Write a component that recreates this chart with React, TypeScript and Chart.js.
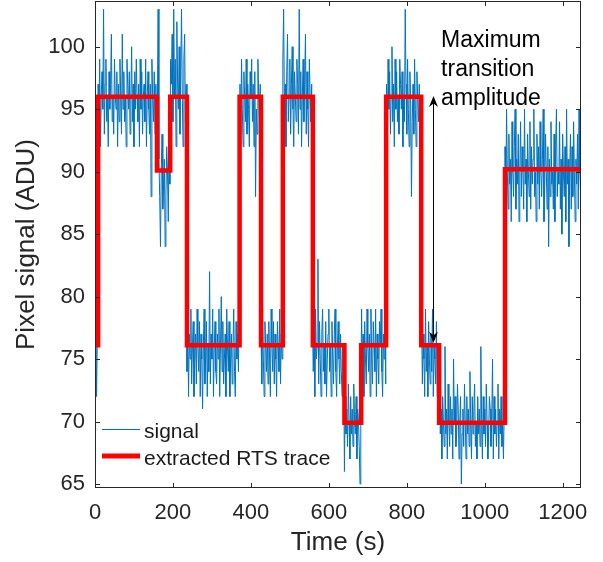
import React, { useEffect, useRef } from "react";
import { Chart, registerables } from "chart.js";

Chart.register(...registerables);

// ---- data ----
const signalStep = 2; // seconds between plotted samples
const signalValues = [
  75, 79, 72, 77,
  97, 94, 99, 92, 96, 98, 95, 103, 93, 97, 99, 94, 96, 92, 98, 95, 97, 101, 94, 96,
  93, 99, 96, 95, 98, 92, 97, 94, 99, 96, 93, 101, 95, 98, 94, 96, 92, 99, 97, 95,
  98, 93, 96, 100, 94, 97, 92, 98, 95, 99, 96, 94, 97, 92, 99, 95, 98, 93, 96, 97,
  94, 99, 92, 96, 98, 95, 93, 97, 88, 99, 96, 94, 98, 93, 97, 95,
  95, 103, 91, 88, 84, 90, 93, 87, 89, 91, 84, 88, 92, 90, 86, 93, 89,
  99, 97, 101, 94, 103, 96, 99, 92, 102, 97, 95, 100, 93, 98, 103, 96, 92, 99, 101, 94, 97,
  74, 78, 72, 77, 75, 79, 73, 76, 78, 72, 75, 77, 73, 79, 76, 74, 78, 72, 77, 75,
  71, 76, 79, 73, 75, 78, 72, 76, 74, 82, 73, 77, 75, 79, 72, 76, 78, 74, 73, 77,
  75, 79, 72, 76, 80, 74, 78, 73, 75, 77, 72, 79, 76, 74, 78, 72, 75, 77, 73, 76,
  79, 74, 72, 78, 75, 77, 74, 79,
  97, 93, 99, 95, 92, 98, 96, 94, 99, 93, 97, 95, 92, 98, 96, 99, 94, 97, 92, 98, 88, 95, 93, 99, 96, 94, 97,
  77, 73, 79, 75, 72, 78, 76, 74, 77, 73, 78, 75, 72, 79, 76, 74, 78, 73, 77, 75, 72, 78, 76, 74, 79, 73, 77, 75,
  99, 103, 95, 97, 92, 98, 101, 94, 96, 99, 93, 97, 100, 95, 92, 98, 96, 94, 99, 97,
  93, 103, 95, 98, 92, 96, 99, 94, 97, 101, 93, 98, 95, 92, 99, 96, 94, 97,
  78, 74, 77, 72, 79, 75, 76, 83, 73, 78, 75, 72, 77, 79, 74, 76, 73, 78, 72, 75,
  77, 79, 74, 76, 72, 78, 75, 73, 77, 79, 74, 72, 76, 78, 75, 73, 77, 74, 72, 76, 75,
  66, 72, 69, 71, 68, 73, 70, 67, 72, 69, 71, 68, 73, 70, 69, 72, 67, 71, 70, 68, 65, 72,
  79, 74, 77, 72, 78, 75, 73, 79, 76, 74, 77, 72, 79, 75, 73, 78, 76, 74, 79, 72, 77, 75, 73, 78, 76, 79, 74, 72, 77, 75, 78, 73,
  97, 92, 99, 95, 98, 93, 96, 100, 94, 97, 92, 99, 95, 98, 94, 96, 93, 99, 97, 95,
  98, 92, 96, 94, 103, 97, 93, 99, 95, 92, 98, 96, 88, 94, 97, 93, 99, 95, 92, 98, 96, 94, 97, 93, 95,
  78, 73, 77, 75, 72, 79, 74, 76, 72, 78, 75, 73, 77, 74, 79, 72, 76, 75, 73, 78, 72, 76, 74,
  73, 69, 71, 67, 72, 70, 68, 76, 69, 71, 67, 73, 70, 68, 72, 69, 71, 67, 75, 70,
  72, 68, 69, 73, 71, 67, 70, 72, 65, 69, 71, 68, 73, 70, 67, 72, 69, 71, 68, 74,
  70, 67, 72, 69, 71, 73, 68, 70, 67, 72, 69, 71, 68, 76, 70, 67, 72, 69, 71, 68,
  73, 70, 67, 69, 72, 71, 68, 70, 75, 67, 72, 69, 71, 68, 70, 73, 67, 71, 69, 72,
  68, 70, 67, 71,
  92, 88, 95, 90, 87, 93, 89, 91, 86, 94, 90, 88, 92, 95, 87, 91, 89, 93, 86, 90,
  94, 88, 92, 90, 87, 95, 89, 91, 86, 93, 90, 88, 94, 87, 92, 89, 91, 95, 88, 90,
  86, 93, 89, 92, 87, 94, 90, 88, 91, 95, 86, 89, 93, 90, 87, 92, 84, 91, 88, 94,
  89, 90, 87, 93, 86, 92, 95, 88, 90, 89, 94, 87, 91, 85, 93, 90, 88, 92, 86, 95,
  89, 91, 84, 90, 93, 87, 92, 88, 94, 90, 86, 91, 89, 93, 87, 95, 90, 88,
];

const rtsTimes = [0, 8, 159, 193, 236, 371, 426, 482, 559, 640, 683, 747, 837, 883, 1052, 1247];
const rtsLevels = [76.1, 96, 90.1, 96, 76.1, 96, 76.1, 96, 76.1, 69.9, 76.1, 96, 76.1, 69.9, 90.2, 90.2];

const xTicks = [0, 200, 400, 600, 800, 1000, 1200];
const yTicks = [65, 70, 75, 80, 85, 90, 95, 100];
const xMin = 0;
const xMax = 1247;
const yMin = 64.68;
const yMax = 103.66;

const legendLabels = ["signal", "extracted RTS trace"];
const xTitle = "Time (s)";
const yTitle = "Pixel signal (ADU)";

const annotationLines = ["Maximum", "transition", "amplitude"];
const annotationTextTime = 888;
const annotationTextValue = 100.0;
const arrowTime = 867;
const arrowFrom = 96.05;
const arrowTo = 76.3;

// ---- styles ----
const FONT = "'Liberation Sans', Arial, Helvetica, sans-serif";
const AXIS_COLOR = "#262626";
const SIGNAL_COLOR = "#0072BD";
const RTS_COLOR = "#FF0000";

const framePlugin = {
  id: "frame",
  afterDatasetsDraw(chart: any) {
    const { ctx, chartArea, scales } = chart;
    const { left, right, top, bottom } = chartArea;
    const x = scales.x;
    const y = scales.y;
    ctx.save();
    ctx.strokeStyle = AXIS_COLOR;
    ctx.lineWidth = 1;
    ctx.strokeRect(left + 0.5, top + 0.5, right - left - 1, bottom - top - 1);
    const tl = 5;
    ctx.beginPath();
    for (const v of xTicks) {
      const px = Math.round(x.getPixelForValue(v)) + 0.5;
      ctx.moveTo(px, bottom);
      ctx.lineTo(px, bottom - tl);
      ctx.moveTo(px, top);
      ctx.lineTo(px, top + tl);
    }
    for (const v of yTicks) {
      const py = Math.round(y.getPixelForValue(v)) + 0.5;
      ctx.moveTo(left, py);
      ctx.lineTo(left + tl, py);
      ctx.moveTo(right, py);
      ctx.lineTo(right - tl, py);
    }
    ctx.stroke();

    // annotation arrow
    const ax = Math.round(x.getPixelForValue(arrowTime)) + 0.5;
    const ay1 = y.getPixelForValue(arrowFrom);
    const ay2 = y.getPixelForValue(arrowTo);
    ctx.strokeStyle = "#000";
    ctx.fillStyle = "#000";
    ctx.beginPath();
    ctx.moveTo(ax, ay1 + 4);
    ctx.lineTo(ax, ay2 - 4);
    ctx.stroke();
    const head = (tipY: number, dir: number) => {
      ctx.beginPath();
      ctx.moveTo(ax, tipY);
      ctx.lineTo(ax - 4.5, tipY + dir * 11);
      ctx.lineTo(ax, tipY + dir * 7.5);
      ctx.lineTo(ax + 4.5, tipY + dir * 11);
      ctx.closePath();
      ctx.fill();
    };
    head(ay1, 1);
    head(ay2, -1);

    // annotation text
    ctx.font = `23px ${FONT}`;
    ctx.textAlign = "left";
    ctx.textBaseline = "alphabetic";
    const tx = x.getPixelForValue(annotationTextTime);
    const ty = y.getPixelForValue(annotationTextValue);
    annotationLines.forEach((line, i) => {
      ctx.fillText(line, tx, ty + i * 29);
    });

    // legend
    const lx = left + 7;
    const rows = [bottom - 59, bottom - 32];
    const colors = [SIGNAL_COLOR, RTS_COLOR];
    const widths = [1, 5];
    ctx.font = `21px ${FONT}`;
    ctx.fillStyle = "#1a1a1a";
    legendLabels.forEach((label, i) => {
      ctx.strokeStyle = colors[i];
      ctx.lineWidth = widths[i];
      ctx.beginPath();
      ctx.moveTo(lx, rows[i] + (widths[i] === 1 ? 0.5 : 0));
      ctx.lineTo(lx + 38, rows[i] + (widths[i] === 1 ? 0.5 : 0));
      ctx.stroke();
      ctx.fillText(label, lx + 42, rows[i] + 9);
    });
    ctx.restore();
  },
};

export default function App() {
  const canvasRef = useRef<HTMLCanvasElement | null>(null);

  useEffect(() => {
    const canvas = canvasRef.current;
    if (!canvas) return;
    const signalData = signalValues.map((v, i) => ({ x: i * signalStep, y: v }));
    const rtsData = rtsTimes.map((t, i) => ({ x: t, y: rtsLevels[i] }));

    const chart = new Chart(canvas, {
      type: "line",
      data: {
        datasets: [
          {
            label: legendLabels[0],
            data: signalData,
            borderColor: SIGNAL_COLOR,
            borderWidth: 1,
            pointRadius: 0,
            tension: 0,
            order: 2,
          },
          {
            label: legendLabels[1],
            data: rtsData,
            borderColor: RTS_COLOR,
            borderWidth: 4.5,
            pointRadius: 0,
            stepped: "before",
            borderJoinStyle: "miter",
            borderCapStyle: "butt",
            order: 1,
          },
        ],
      },
      options: {
        animation: false,
        responsive: false,
        devicePixelRatio: 1,
        layout: { padding: { left: 0, right: 22, top: 1, bottom: 0 } },
        plugins: {
          legend: { display: false },
          tooltip: { enabled: false },
        },
        scales: {
          x: {
            type: "linear",
            min: xMin,
            max: xMax,
            afterBuildTicks: (s: any) => {
              s.ticks = xTicks.map((v) => ({ value: v }));
            },
            afterFit: (s: any) => {
              s.height = 74;
              s.paddingLeft = 0;
              s.paddingRight = 0;
            },
            grid: { display: false, drawTicks: false },
            border: { display: false },
            ticks: {
              padding: 12,
              color: AXIS_COLOR,
              font: { family: FONT, size: 22 },
              maxRotation: 0,
              autoSkip: false,
              callback: (v: any) => String(v),
            },
            title: {
              display: true,
              text: xTitle,
              color: AXIS_COLOR,
              font: { family: FONT, size: 26 },
              padding: { top: 0, bottom: 4 },
            },
          },
          y: {
            type: "linear",
            min: yMin,
            max: yMax,
            afterBuildTicks: (s: any) => {
              s.ticks = yTicks.map((v) => ({ value: v }));
            },
            afterFit: (s: any) => {
              s.width = 95;
              s.paddingTop = 0;
              s.paddingBottom = 0;
            },
            grid: { display: false, drawTicks: false },
            border: { display: false },
            ticks: {
              padding: 10,
              color: AXIS_COLOR,
              font: { family: FONT, size: 22 },
              autoSkip: false,
              callback: (v: any) => String(v),
            },
            title: {
              display: true,
              text: yTitle,
              color: AXIS_COLOR,
              font: { family: FONT, size: 26 },
              padding: { top: 11, bottom: 0 },
            },
          },
        },
      },
      plugins: [framePlugin],
    } as any);

    return () => chart.destroy();
  }, []);

  return (
    <div style={{ position: "fixed", left: 0, top: 0, width: 603, height: 562, background: "#fff" }}>
      <canvas ref={canvasRef} width={603} height={562} style={{ display: "block" }} />
    </div>
  );
}
